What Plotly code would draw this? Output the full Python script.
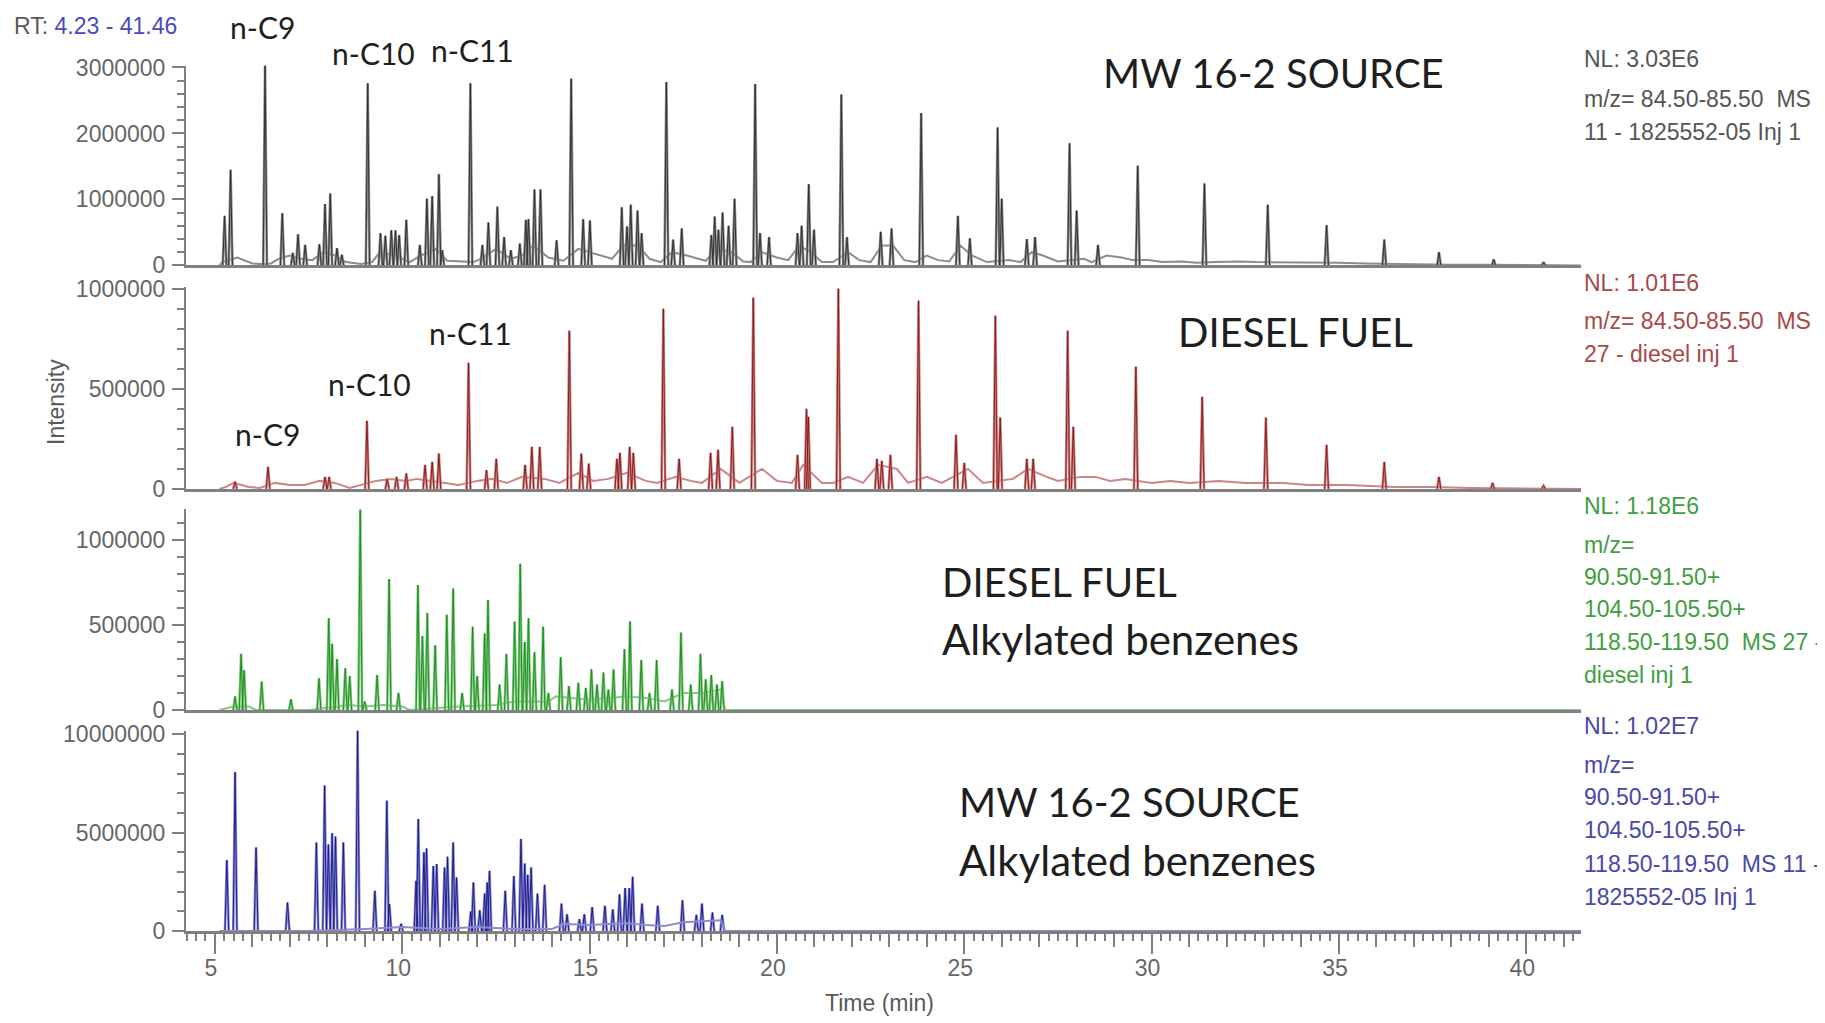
import plotly.graph_objects as go

# ---------------- data (intensities in units of 1e6 counts) ----------------
X_RANGE = [4.23, 41.46]

# Panel 1 : MW 16-2 SOURCE, m/z 84.50-85.50
p1_rt = [5.26, 5.42, 6.34, 6.80, 7.08, 7.22, 7.41, 7.79, 7.94, 8.08, 8.26, 8.39, 9.08, 9.42, 9.55,
         9.71, 9.82, 9.92, 10.11, 10.47, 10.66, 10.80, 10.98, 11.07, 11.82, 12.14, 12.30, 12.54,
         12.72, 12.90, 13.14, 13.30, 13.37, 13.53, 13.69, 14.12, 14.51, 14.83, 15.01, 15.86, 16.00,
         16.10, 16.28, 16.39, 17.05, 17.23, 17.46, 18.25, 18.34, 18.44, 18.55, 18.71, 18.87, 19.42,
         19.55, 19.79, 20.55, 20.66, 20.85, 20.99, 21.72, 21.87, 22.77, 23.06, 23.85, 24.83, 25.15,
         25.89, 26.00, 26.67, 26.89, 27.81, 28.00, 28.57, 29.63, 31.41, 33.10, 34.67, 36.21, 37.67,
         39.13, 40.46]
p1_h = [0.75, 1.45, 3.03, 0.79, 0.19, 0.47, 0.31, 0.32, 0.93, 1.09, 0.26, 0.16, 2.76, 0.49, 0.45,
        0.53, 0.53, 0.46, 0.69, 0.31, 1.01, 1.05, 1.38, 0.23, 2.76, 0.31, 0.65, 0.89,
        0.43, 0.23, 0.33, 0.69, 0.70, 1.15, 1.15, 0.38, 2.83, 0.70, 0.68, 0.88, 0.59,
        0.92, 0.83, 0.49, 2.78, 0.39, 0.56, 0.46, 0.74, 0.54, 0.80, 0.60, 1.01, 2.75,
        0.49, 0.43, 0.49, 0.60, 1.23, 0.54, 2.59, 0.43, 0.51, 0.56, 2.31, 0.75, 0.41,
        2.09, 1.01, 0.40, 0.43, 1.85, 0.83, 0.31, 1.51, 1.24, 0.92, 0.61, 0.39, 0.20,
        0.09, 0.05]
p1_base_t = [5.12, 5.2, 5.6, 5.8, 6.0, 6.2, 6.5, 6.7, 7.0, 7.3, 7.6, 7.9, 8.2, 8.5, 8.9, 9.2, 9.4,
             9.8, 10.2, 10.5, 10.9, 11.2, 11.6, 11.9, 12.1, 12.5, 12.9, 13.2, 13.5, 13.9, 14.3, 14.7,
             15.0, 15.3, 15.6, 15.9, 16.3, 16.6, 16.9, 17.2, 17.6, 17.9, 18.1, 18.4, 18.8, 19.1, 19.3,
             19.6, 20.0, 20.3, 20.6, 20.9, 21.2, 21.5, 21.9, 22.2, 22.5, 22.8, 23.1, 23.4, 23.7, 24.0,
             24.3, 24.6, 24.9, 25.2, 25.6, 26.2, 26.5, 26.8, 27.1, 27.5, 28.2, 28.4, 28.8, 29.2, 29.5,
             29.9, 30.3, 30.8, 31.2, 31.7, 32.3, 32.8, 33.5, 34.2, 35.0, 35.7, 36.5, 37.2, 38.0, 39.0,
             41.46]
p1_base_v = [0.0, 0.05, 0.12, 0.07, 0.03, 0.02, 0.03, 0.10, 0.15, 0.10, 0.08, 0.20, 0.15, 0.05, 0.02,
             0.05, 0.20, 0.15, 0.05, 0.15, 0.25, 0.07, 0.06, 0.05, 0.10, 0.25, 0.10, 0.15, 0.30, 0.12,
             0.07, 0.25, 0.20, 0.15, 0.10, 0.30, 0.30, 0.10, 0.05, 0.20, 0.15, 0.10, 0.07, 0.25, 0.20,
             0.06, 0.05, 0.20, 0.12, 0.08, 0.30, 0.20, 0.05, 0.05, 0.20, 0.08, 0.05, 0.30, 0.30, 0.08,
             0.05, 0.15, 0.08, 0.06, 0.30, 0.15, 0.05, 0.08, 0.05, 0.20, 0.15, 0.06, 0.10, 0.05, 0.15,
             0.12, 0.08, 0.08, 0.05, 0.06, 0.04, 0.05, 0.06, 0.05, 0.05, 0.04, 0.04, 0.03, 0.02, 0.02,
             0.01, 0.01, 0.0]

# Panel 2 : DIESEL FUEL, m/z 84.50-85.50
p2_rt = [5.54, 6.42, 7.94, 8.05, 9.06, 9.60, 9.85, 10.11, 10.61, 10.80, 10.98, 11.77, 12.25, 12.51,
         13.28, 13.46, 13.67, 14.46, 14.78, 14.98, 15.73, 15.81, 16.07, 16.17, 16.97, 17.39, 18.23,
         18.43, 18.81, 19.37, 20.55, 20.79, 20.84, 21.64, 22.67, 22.80, 23.03, 23.78, 24.78, 25.00,
         25.83, 25.96, 26.67, 26.84, 27.76, 27.91, 29.58, 31.35, 33.05, 34.67, 36.21, 37.67, 39.10,
         40.46]
p2_h = [0.036, 0.11, 0.06, 0.06, 0.34, 0.05, 0.06, 0.077, 0.12, 0.135, 0.176, 0.63, 0.094, 0.15,
        0.12, 0.21, 0.21, 0.79, 0.176, 0.126, 0.15, 0.18, 0.21, 0.18, 0.90, 0.15, 0.18,
        0.195, 0.31, 0.955, 0.17, 0.40, 0.36, 1.00, 0.15, 0.14, 0.17, 0.94, 0.27, 0.13,
        0.865, 0.356, 0.15, 0.15, 0.79, 0.31, 0.61, 0.46, 0.356, 0.22, 0.135, 0.06, 0.03,
        0.016]
p2_base_t = [5.12, 5.3, 5.5, 5.9, 6.2, 6.6, 7.0, 7.4, 7.8, 8.2, 8.6, 9.3, 9.7, 10.1, 10.4, 11.1, 11.5,
             12.0, 12.4, 12.8, 13.2, 13.8, 14.2, 14.7, 15.1, 15.5, 16.0, 16.5, 16.8, 17.3, 17.7, 18.0,
             18.5, 19.0, 19.6, 20.0, 20.4, 20.7, 21.2, 21.5, 21.9, 22.3, 22.7, 23.2, 23.5, 24.0, 24.4,
             25.1, 25.5, 26.3, 26.7, 27.2, 27.5, 28.1, 28.5, 28.9, 29.3, 30.0, 30.5, 31.0, 31.8, 32.5,
             33.5, 34.2, 35.2, 36.5, 37.5, 38.5, 41.46]
p2_base_v = [0.0, 0.01, 0.03, 0.01, 0.005, 0.03, 0.02, 0.02, 0.04, 0.03, 0.005, 0.04, 0.05, 0.04, 0.05,
             0.03, 0.02, 0.04, 0.05, 0.03, 0.06, 0.05, 0.03, 0.08, 0.04, 0.05, 0.08, 0.04, 0.03, 0.06,
             0.04, 0.03, 0.10, 0.03, 0.10, 0.04, 0.03, 0.12, 0.03, 0.03, 0.06, 0.03, 0.12, 0.10, 0.03,
             0.06, 0.03, 0.10, 0.03, 0.05, 0.10, 0.06, 0.04, 0.06, 0.06, 0.04, 0.05, 0.03, 0.04, 0.03,
             0.04, 0.03, 0.03, 0.02, 0.02, 0.01, 0.01, 0.005, 0.0]

# Panel 3 : DIESEL FUEL alkylated benzenes, m/z 91+105+119
p3_rt = [5.54, 5.70, 5.78, 6.25, 7.03, 7.78, 8.04, 8.13, 8.26, 8.48, 8.60, 8.88, 9.00, 9.33, 9.65,
         9.90, 10.42, 10.54, 10.67, 10.88, 11.19, 11.36, 11.60, 11.88, 12.00, 12.20, 12.29, 12.60,
         12.78, 13.00, 13.15, 13.27, 13.37, 13.53, 13.76, 13.90, 14.23, 14.45, 14.70, 14.90, 15.05,
         15.20, 15.37, 15.50, 15.64, 15.93, 16.08, 16.38, 16.60, 16.79, 17.20, 17.44, 17.70, 17.96,
         18.10, 18.25, 18.40, 18.54]
p3_h = [0.08, 0.33, 0.235, 0.167, 0.063, 0.186, 0.54, 0.39, 0.30, 0.245, 0.20, 1.18, 0.05, 0.206,
        0.77, 0.10, 0.735, 0.435, 0.57, 0.38, 0.56, 0.715, 0.10, 0.49, 0.20, 0.45, 0.647, 0.15,
        0.33, 0.52, 0.86, 0.40, 0.54, 0.34, 0.49, 0.10, 0.31, 0.14, 0.16, 0.13, 0.24,
        0.15, 0.22, 0.12, 0.24, 0.357, 0.52, 0.294, 0.10, 0.294, 0.12, 0.455, 0.15, 0.33,
        0.18, 0.206, 0.15, 0.17]
p3_base_t = [5.12, 5.5, 5.9, 6.1, 6.5, 7.5, 8.6, 9.0, 9.5, 10.0, 10.2, 11.5, 12.5, 13.0, 13.9, 14.1,
             14.5, 15.0, 15.5, 16.0, 16.5, 17.0, 17.5, 18.0, 18.5, 18.62, 41.46]
p3_base_v = [0.0, 0.02, 0.02, 0.0, 0.0, 0.0, 0.03, 0.02, 0.03, 0.02, 0.0, 0.02, 0.03, 0.05, 0.05, 0.08,
             0.07, 0.06, 0.07, 0.08, 0.07, 0.05, 0.10, 0.10, 0.12, 0.0, 0.0]

# Panel 4 : MW 16-2 SOURCE alkylated benzenes, m/z 91+105+119
p4_rt = [5.32, 5.54, 6.10, 6.94, 7.71, 7.93, 8.03, 8.13, 8.22, 8.43, 8.81, 9.27, 9.59, 9.66, 9.97,
         10.37, 10.43, 10.58, 10.65, 10.83, 10.92, 11.13, 11.21, 11.36, 11.45, 11.83, 11.90, 12.07,
         12.20, 12.27, 12.33, 12.75, 12.98, 13.17, 13.27, 13.35, 13.44, 13.61, 13.80, 14.25, 14.40,
         14.73, 14.86, 15.07, 15.41, 15.62, 15.80, 15.95, 16.06, 16.15, 16.40, 16.82, 17.48, 17.85,
         18.00, 18.28, 18.54]
p4_h = [3.6, 8.08, 4.25, 1.45, 4.5, 7.4, 4.4, 4.97, 4.8, 4.5, 10.2, 2.04, 6.63, 1.36, 0.37,
        2.55, 5.7, 4.0, 4.2, 3.3, 3.4, 3.23, 3.78, 4.5, 2.72, 0.99, 2.47, 1.05,
        1.9, 2.47, 3.06, 2.04, 2.8, 4.68, 3.43, 2.86, 3.23, 1.9, 2.35, 1.39, 0.85,
        0.6, 0.85, 1.22, 1.28, 1.1, 1.87, 2.18, 2.18, 2.76, 1.39, 1.28, 1.56, 0.82,
        1.39, 0.94, 0.82]
p4_base_t = [5.12, 6.5, 7.5, 9.0, 10.0, 11.0, 12.0, 13.0, 14.0, 14.3, 15.0, 15.5, 16.0, 16.5, 17.0,
             17.5, 18.0, 18.5, 18.62, 41.46]
p4_base_v = [0.0, 0.0, 0.0, 0.1, 0.2, 0.1, 0.2, 0.1, 0.1, 0.35, 0.3, 0.35, 0.4, 0.3, 0.25, 0.45, 0.5,
             0.55, 0.0, 0.0]

# axis ticks
p1_ticks = [0, 1000000, 2000000, 3000000]
p2_ticks = [0, 500000, 1000000]
p3_ticks = [0, 500000, 1000000]
p4_ticks = [0, 5000000, 10000000]
x_ticks = [5, 10, 15, 20, 25, 30, 35, 40]

# ---------------- styling ----------------
UNIT = 1e6
PEAK_HW = 0.05           # drawn half-width of a peak (min)
AX = '#808080'
TXT = '#595959'
ARIAL = 'Liberation Sans, Arial, sans-serif'
CALI = 'Lato, Carlito, Calibri, sans-serif'
FS = 23

# page coordinates of the plot area (the page body has an 8 px default margin)
BODY = 8
PL, PT, PR, PB = 186, 65, 1581, 931
W, H = 1825 - BODY, 1023 - BODY
PW, PH = PR - PL, PB - PT
ML, MT = PL - BODY, PT - BODY
MR, MB = W - ML - PW, H - MT - PH


def px(x):
    return (x - PL) / PW


def py(y):
    return (PB - y) / PH


panels = [
    dict(rt=p1_rt, h=p1_h, bt=p1_base_t, bv=p1_base_v, top=3.03e6, ticks=p1_ticks, minor=2e5,
         dom=[py(265.4), py(65.5)], halo='#8c8c8c', core='#2a2a2a'),
    dict(rt=p2_rt, h=p2_h, bt=p2_base_t, bv=p2_base_v, top=1.01e6, ticks=p2_ticks, minor=1e5,
         dom=[py(488.9), py(286.7)], halo='#c98686', core='#8a1414'),
    dict(rt=p3_rt, h=p3_h, bt=p3_base_t, bv=p3_base_v, top=1.18e6, ticks=p3_ticks, minor=1e5,
         dom=[py(710.0), py(509.4)], halo='#86c886', core='#148c14'),
    dict(rt=p4_rt, h=p4_h, bt=p4_base_t, bv=p4_base_v, top=1.02e7, ticks=p4_ticks, minor=1e6,
         dom=[0.0, py(730.5)], halo='#8c8cce', core='#14148c'),
]

fig = go.Figure()
layout = dict(width=W, height=H, margin=dict(l=ML, r=MR, t=MT, b=MB, autoexpand=False),
              plot_bgcolor='white', paper_bgcolor='white', showlegend=False)

for i, p in enumerate(panels, start=1):
    sx = '' if i == 1 else str(i)
    xs, ys = [], []
    for t, v in zip(p['rt'], p['h']):
        xs += [t - PEAK_HW, t, t + PEAK_HW, None]
        ys += [0, min(v * UNIT, p['top']), 0, None]
    base_x = 'x5' if i == 4 else 'x' + sx
    by = [v * UNIT for v in p['bv']]
    fig.add_trace(go.Scatter(x=p['bt'], y=by, mode='lines', xaxis=base_x, yaxis='y' + sx,
                             line=dict(color=p['halo'], width=2), hoverinfo='skip'))
    fig.add_trace(go.Scatter(x=xs, y=ys, mode='lines', xaxis='x' + sx, yaxis='y' + sx,
                             line=dict(color=p['halo'], width=2.6), hoverinfo='skip'))
    fig.add_trace(go.Scatter(x=xs, y=ys, mode='lines', xaxis='x' + sx, yaxis='y' + sx,
                             line=dict(color=p['core'], width=0.9), hoverinfo='skip'))
    xa = dict(domain=[0, 1], anchor='y' + sx, range=X_RANGE, showgrid=False, zeroline=False,
              showline=True, linecolor=AX, linewidth=3, showticklabels=False, ticks='',
              automargin=False)
    if i == 4:
        xa.update(ticks='outside', tickmode='linear', tick0=0, dtick=1, ticklen=13, tickwidth=2,
                  tickcolor=AX,
                  minor=dict(ticks='outside', dtick=0.25, tick0=0, ticklen=7, tickwidth=1.5,
                             tickcolor=AX))
    layout['xaxis' + sx] = xa
    layout['yaxis' + sx] = dict(domain=p['dom'], anchor='x' + sx, range=[0, p['top']],
                                showgrid=False, zeroline=False, showline=True, linecolor=AX,
                                linewidth=2, ticks='outside', ticklen=12, tickwidth=2,
                                tickcolor=AX, tickmode='array', tickvals=p['ticks'],
                                ticktext=[str(v) for v in p['ticks']],
                                tickfont=dict(family=ARIAL, size=FS, color='#666666'),
                                ticklabelstandoff=2, automargin=False,
                                minor=dict(ticks='outside', dtick=p['minor'], tick0=0, ticklen=7,
                                           tickwidth=2, tickcolor=AX))

layout['xaxis5'] = dict(overlaying='x4', anchor='y4', side='bottom', range=X_RANGE,
                        showgrid=False, zeroline=False, showline=False, ticks='outside',
                        tickmode='array', tickvals=x_ticks, ticktext=[str(v) for v in x_ticks],
                        ticklen=22, tickwidth=2, tickcolor=AX, automargin=False,
                        ticklabelstandoff=-6, ticklabelshift=-4,
                        tickfont=dict(family=ARIAL, size=FS, color='#666666'))
fig.update_layout(**layout)

anns = []


def ann(text, x, y, color=TXT, size=FS, family=ARIAL, xanchor='left', angle=0):
    anns.append(dict(text=text, x=px(x), y=py(y), xref='paper', yref='paper', showarrow=False,
                     xanchor=xanchor, yanchor='middle', textangle=angle,
                     font=dict(family=family, size=size, color=color)))


ann("RT: <span style='color:#4a4ac0'>4.23 - 41.46</span>", 12, 26)
ann('Time (min)', 879, 1003, xanchor='center')
ann('Intensity', 56, 402, xanchor='center', angle=-90)

# compound / sample labels
DK = '#1e1e1e'
ann('n-C9', 262, 27, DK, 30, CALI, 'center')
ann('n-C10', 373, 53, DK, 30, CALI, 'center')
ann('n-C11', 472, 50, DK, 30, CALI, 'center')
ann('MW 16-2 SOURCE', 1101, 73, DK, 40, CALI)
ann('n-C11', 470, 333, DK, 30, CALI, 'center')
ann('n-C10', 369, 384, DK, 30, CALI, 'center')
ann('n-C9', 267, 434, DK, 30, CALI, 'center')
ann('DIESEL FUEL', 1176, 332, DK, 40, CALI)
ann('DIESEL FUEL', 940, 582, DK, 40, CALI)
ann('Alkylated benzenes', 940, 639, DK, 42, CALI)
ann('MW 16-2 SOURCE', 957, 802, DK, 40, CALI)
ann('Alkylated benzenes', 957, 860, DK, 42, CALI)

# right-hand trace descriptions
RX = 1582
c1, c2, c3, c4 = '#555555', '#a84848', '#3f9e3f', '#4848a8'
ann('NL: 3.03E6', RX, 59, c1)
ann('m/z= 84.50-85.50  MS', RX, 99, c1)
ann('11 - 1825552-05 Inj 1', RX, 132, c1)
ann('NL: 1.01E6', RX, 283, c2)
ann('m/z= 84.50-85.50  MS', RX, 321, c2)
ann('27 - diesel inj 1', RX, 354, c2)
ann('NL: 1.18E6', RX, 506, c3)
ann('m/z=', RX, 545, c3)
ann('90.50-91.50+', RX, 577, c3)
ann('104.50-105.50+', RX, 609, c3)
ann('118.50-119.50  MS 27 -', RX, 642, c3)
ann('diesel inj 1', RX, 675, c3)
ann('NL: 1.02E7', RX, 726, c4)
ann('m/z=', RX, 765, c4)
ann('90.50-91.50+', RX, 797, c4)
ann('104.50-105.50+', RX, 830, c4)
ann('118.50-119.50  MS 11 -', RX, 864, c4)
ann('1825552-05 Inj 1', RX, 897, c4)

fig.update_layout(annotations=anns)
fig.write_html('out.html')
